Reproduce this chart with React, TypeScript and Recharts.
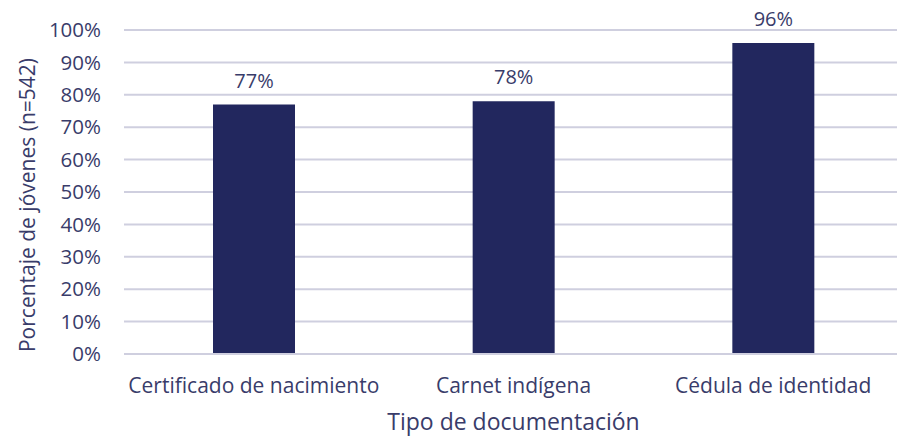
import { Bar, BarChart, CartesianGrid, LabelList, XAxis, YAxis, Label } from "recharts";

const CATEGORIES = ["Certificado de nacimiento", "Carnet indígena", "Cédula de identidad"];
const VALUES = [77, 78, 96];
const Y_TICKS = [0, 10, 20, 30, 40, 50, 60, 70, 80, 90, 100];

const TEXT = "#393c6a";
const BAR = "#22275e";
const GRID = "#cfcfdf";
const FONT = "'Open Sans', sans-serif";

const data = CATEGORIES.map((name, i) => ({ name, value: VALUES[i] }));

// y title sits a little below the plot's middle in the original
function YTitle() {
  const cx = 27;
  const cy = 205;
  return (
    <text
      x={cx}
      y={cy}
      transform={`rotate(-90, ${cx}, ${cy})`}
      textAnchor="middle"
      dominantBaseline="central"
      fill={TEXT}
      fontSize={21}
      fontFamily={FONT}
    >
      Porcentaje de jóvenes (n=542)
    </text>
  );
}

export default function App() {
  return (
    <div
      style={{
        position: "absolute",
        left: 0,
        top: 0,
        width: 897,
        height: 438,
        overflow: "hidden",
        background: "#fff",
        fontFamily: FONT,
      }}
    >
      <BarChart
        width={903}
        height={438}
        data={data}
        margin={{ top: 30, right: 0, bottom: 0, left: 0 }}
      >
        <CartesianGrid vertical={false} stroke={GRID} strokeWidth={2} />
        <XAxis
          dataKey="name"
          height={84}
          axisLine={{ stroke: GRID, strokeWidth: 2 }}
          tickLine={false}
          tickSize={0}
          tickMargin={24}
          tick={{ fill: TEXT, fontSize: 21, fontFamily: FONT }}
        >
          <Label
            value="Tipo de documentación"
            position="insideBottom"
            offset={8}
            fill={TEXT}
            fontSize={23}
            fontFamily={FONT}
          />
        </XAxis>
        <YAxis
          width={124}
          domain={[0, 100]}
          ticks={Y_TICKS}
          tickFormatter={(v) => `${v}%`}
          axisLine={false}
          tickLine={false}
          tickSize={0}
          tickMargin={23}
          tick={{ fill: TEXT, fontSize: 20.5, fontFamily: FONT }}
        >
          <Label content={<YTitle />} />
        </YAxis>
        <Bar dataKey="value" fill={BAR} barSize={82} isAnimationActive={false}>
          <LabelList
            dataKey="value"
            position="top"
            offset={17}
            formatter={(v: number) => `${v}%`}
            fill={TEXT}
            fontSize={20}
            fontFamily={FONT}
          />
        </Bar>
      </BarChart>
    </div>
  );
}
